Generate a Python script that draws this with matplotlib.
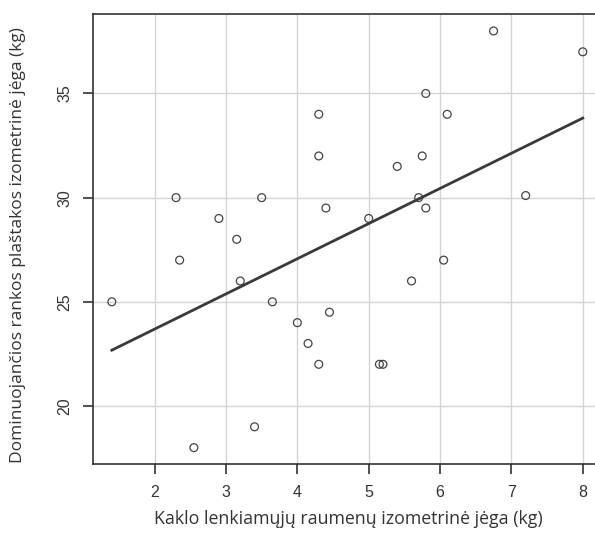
import numpy as np
import matplotlib
matplotlib.use("Agg")
import matplotlib.pyplot as plt

neck = [4.3, 4.3, 2.3, 3.5, 2.9, 3.15, 4.4, 6.75, 8.0, 5.8, 6.1, 5.75, 5.4, 5.7, 5.8,
        5.0, 7.2, 2.35, 3.2, 1.4, 3.65, 4.0, 4.45, 4.15, 4.3, 3.4, 2.55, 5.6, 6.05, 5.15, 5.2]
hand = [34, 32, 30, 30, 29, 28, 29.5, 38, 37, 35, 34, 32, 31.5, 30, 29.5,
        29, 30.1, 27, 26, 25, 25, 24, 24.5, 23, 22, 19, 18, 26, 27, 22, 22]

xticks = [2, 3, 4, 5, 6, 7, 8]
yticks = [20, 25, 30, 35]
xlabel = "Kaklo lenkiamųjų raumenų izometrinė jėga (kg)"
ylabel = "Dominuojančios rankos plaštakos izometrinė jėga (kg)"

W, H = 595, 556
fig = plt.figure(figsize=(W / 100, H / 100), dpi=100)
left, right, top, bottom = 93, 601.6, 14.3, 464.3
ax = fig.add_axes([left / W, 1 - bottom / H, (right - left) / W, (bottom - top) / H])

x = np.array(neck)
y = np.array(hand)
xr = x.max() - x.min()
yr = y.max() - y.min()
ax.set_xlim(x.min() - 0.04 * xr, x.max() + 0.04 * xr)
ax.set_ylim(y.min() - 0.04 * yr, y.max() + 0.04 * yr)

ax.set_xticks(xticks)
ax.set_yticks(yticks)
ax.grid(True, color="#d4d4d4", lw=1.0)
ax.set_axisbelow(True)

ax.scatter(x, y, s=32, facecolors="none", edgecolors="#444444", linewidths=0.9, zorder=3)
b, a = np.polyfit(x, y, 1)
xs = np.array([x.min(), x.max()])
ax.plot(xs, a + b * xs, color="#3a3a3a", lw=2.0, zorder=4)

for s in ax.spines.values():
    s.set_color("#333333")
    s.set_linewidth(1.2)

ax.tick_params(axis="both", direction="out", length=7, width=1.2, color="#333333",
               labelsize=11.5, labelcolor="#333333", pad=8)
for lab in ax.get_yticklabels():
    lab.set_rotation(90)
    lab.set_va("center")
for lab in ax.get_xticklabels() + ax.get_yticklabels():
    lab.set_family("Liberation Sans")

axw = right - left
axh = bottom - top
ax.set_xlabel(xlabel, fontsize=12.8, family="Open Sans", color="#333333", va="center")
ax.xaxis.set_label_coords((348 - left) / axw, -(519 - bottom) / axh)
ax.set_ylabel(ylabel, fontsize=12.5, family="Open Sans", color="#333333", va="center")
ax.yaxis.set_label_coords(-(left - 18) / axw, (bottom - 245) / axh)

fig.savefig("out.png", dpi=100)
